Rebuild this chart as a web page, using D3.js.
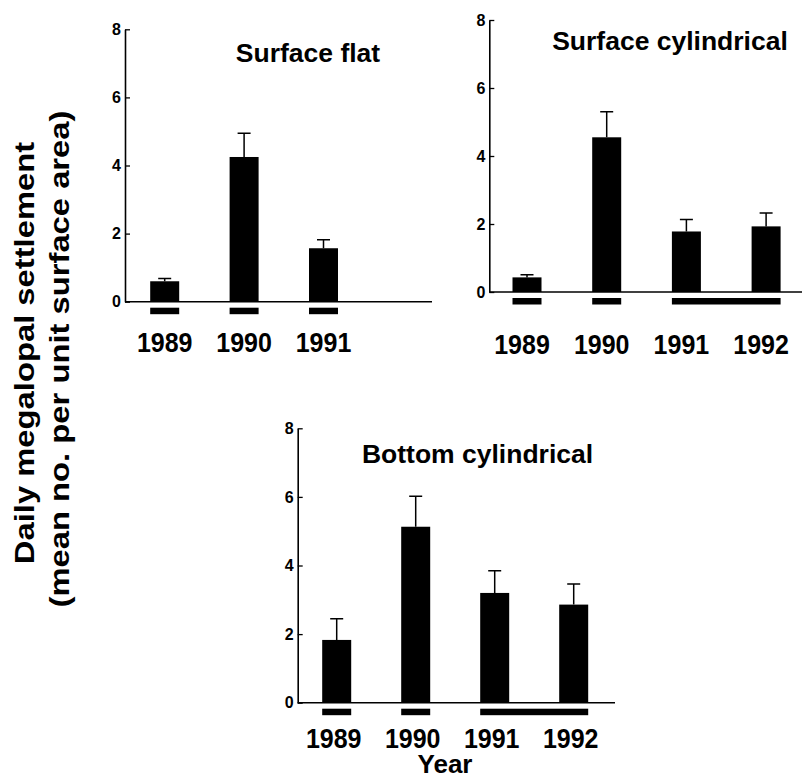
<!DOCTYPE html>
<html lang="en">
<head>
<meta charset="UTF-8">
<title>Daily megalopal settlement</title>
<script src="https://cdn.jsdelivr.net/npm/d3@7"></script>
<style>
  body { margin: 0; background: #fff; }
  svg { display: block; font-family: "Liberation Sans", Arial, Helvetica, sans-serif; font-weight: bold; }
</style>
</head>
<body>
<script type="text/javascript">
  // data
  var years3 = ["1989", "1990", "1991"];
  var years4 = ["1989", "1990", "1991", "1992"];
  var yTicks = [0, 2, 4, 6, 8];

  var flatMean = [0.6, 4.25, 1.57];
  var flatSE   = [0.08, 0.7, 0.25];
  var cylMean  = [0.43, 4.55, 1.78, 1.93];
  var cylSE    = [0.08, 0.75, 0.35, 0.39];
  var botMean  = [1.83, 5.13, 3.2, 2.86];
  var botSE    = [0.62, 0.89, 0.65, 0.6];

  // sampling periods drawn as bars under the axis (first year, last year)
  var flatPeriods = [["1989", "1989"], ["1990", "1990"], ["1991", "1991"]];
  var cylPeriods  = [["1989", "1989"], ["1990", "1990"], ["1991", "1992"]];

  var w = 802, h = 779;

  var svg = d3.select("body").append("svg")
    .attr("width", w)
    .attr("height", h);

  function panel(opt) {
    var g = svg.append("g");

    var y = d3.scaleLinear().domain([0, 8]).range([opt.y0, opt.y8]);
    var x = d3.scalePoint()
      .domain(opt.years)
      .range([opt.c0, opt.c0 + opt.step * (opt.years.length - 1)]);
    var bw = 29;

    var rows = opt.years.map(function(d, i) {
      return { year: d, mean: opt.mean[i], se: opt.se[i] };
    });

    // y axis, ticks pointing inwards
    g.append("g")
      .attr("transform", "translate(" + opt.x0 + ",0)")
      .call(d3.axisLeft(y).tickValues(yTicks).tickSizeInner(-5).tickSizeOuter(0).tickPadding(4))
      .call(function(a) {
        a.select(".domain").attr("stroke", "#000").attr("stroke-width", 1.6);
        a.selectAll(".tick line").attr("stroke", "#000").attr("stroke-width", 1.3);
        a.selectAll(".tick text")
          .attr("font-family", "inherit")
          .attr("font-size", 16)
          .attr("font-weight", "bold")
          .attr("fill", "#000");
      });

    // x axis line
    g.append("line")
      .attr("x1", opt.x0).attr("x2", opt.x1)
      .attr("y1", y(0)).attr("y2", y(0))
      .attr("stroke", "#000").attr("stroke-width", 1.6);

    // error bars
    g.selectAll(".err").data(rows).enter().append("path")
      .attr("class", "err")
      .attr("fill", "none").attr("stroke", "#000").attr("stroke-width", 1.5)
      .attr("d", function(d) {
        var cx = x(d.year), top = y(d.mean + d.se);
        return "M" + cx + "," + y(d.mean) + "V" + top + "M" + (cx - 6.5) + "," + top + "H" + (cx + 6.5);
      });

    // bars
    g.selectAll(".bar").data(rows).enter().append("rect")
      .attr("class", "bar")
      .attr("x", function(d) { return x(d.year) - bw / 2; })
      .attr("y", function(d) { return y(d.mean); })
      .attr("width", bw)
      .attr("height", function(d) { return y(0) - y(d.mean); })
      .attr("fill", "#000");

    // period bars under the axis
    g.selectAll(".period").data(opt.periods).enter().append("rect")
      .attr("class", "period")
      .attr("x", function(d) { return x(d[0]) - bw / 2; })
      .attr("y", y(0) + 6)
      .attr("width", function(d) { return x(d[1]) - x(d[0]) + bw; })
      .attr("height", 6.5)
      .attr("fill", "#000");

    // year labels (scan is a bit taller than the font)
    g.selectAll(".yr").data(opt.years).enter().append("text")
      .attr("class", "yr")
      .attr("transform", function(d) {
        return "translate(" + (x(d) + opt.labDx) + "," + opt.labY + ") scale(1,1.12)";
      })
      .attr("text-anchor", "middle")
      .attr("font-size", 25)
      .text(function(d) { return d; });

    // title
    g.append("text")
      .attr("x", opt.tx).attr("y", opt.ty)
      .attr("text-anchor", "middle")
      .attr("font-size", 26.5)
      .text(opt.title);
  }

  panel({
    title: "Surface flat", years: years3, mean: flatMean, se: flatSE, periods: flatPeriods,
    x0: 125, x1: 432, y0: 301.7, y8: 29.3, c0: 164.7, step: 79.4,
    labY: 352, labDx: 0, tx: 308, ty: 62
  });

  panel({
    title: "Surface cylindrical", years: years4, mean: cylMean, se: cylSE, periods: cylPeriods,
    x0: 489.3, x1: 802, y0: 292, y8: 20, c0: 527, step: 79.7,
    labY: 354, labDx: -5, tx: 670, ty: 50
  });

  panel({
    title: "Bottom cylindrical", years: years4, mean: botMean, se: botSE, periods: cylPeriods,
    x0: 297.7, x1: 615, y0: 702.7, y8: 428.3, c0: 336.7, step: 79,
    labY: 748, labDx: -3, tx: 477.5, ty: 463
  });

  // shared axis titles
  svg.append("text")
    .attr("x", 445).attr("y", 773)
    .attr("text-anchor", "middle")
    .attr("font-size", 26)
    .text("Year");

  var ylines = [
    { text: "Daily megalopal settlement", bx: 33.5, cy: 353 },
    { text: "(mean no. per unit surface area)", bx: 69, cy: 359 }
  ];
  svg.selectAll(".ylab").data(ylines).enter().append("text")
    .attr("class", "ylab")
    .attr("transform", function(d) {
      return "translate(" + d.bx + "," + d.cy + ") rotate(-90) scale(1.17,1)";
    })
    .attr("text-anchor", "middle")
    .attr("font-size", 28)
    .text(function(d) { return d.text; });
</script>
</body>
</html>
